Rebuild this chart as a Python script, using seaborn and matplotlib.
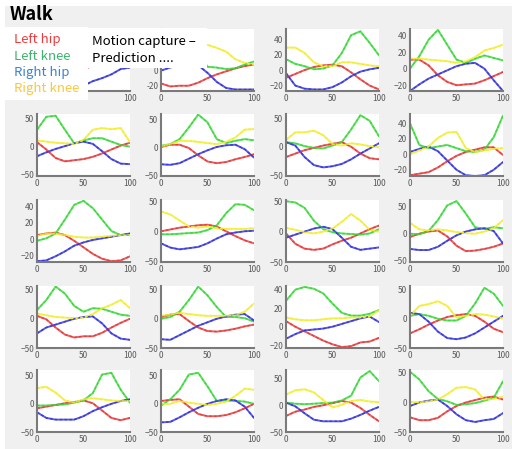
import numpy as np
import pandas as pd
import matplotlib
matplotlib.use("Agg")
import matplotlib.pyplot as plt
import seaborn as sns
from matplotlib.patches import Rectangle

# Gait cycle (%) sampled every 10 %
CYCLE_PCT = [0, 10, 20, 30, 40, 50, 60, 70, 80, 90, 100]
JOINTS = ["Left hip", "Left knee", "Right hip", "Right knee"]
LINE_COLORS = ["#e63a3a", "#3ad83a", "#3535dc", "#f2ee2e"]
TEXT_COLORS = ["#f03c3c", "#3cb46e", "#3c82d2", "#fac83c"]

# Joint angles (deg) per trial, trials ordered row by row (5 rows x 4 columns)
LEFT_HIP = [
    [5, 2, -8, -14, -10, 0, 8, 12, 15, 12, 10],
    [-17, -21, -20, -20, -16, -10, -5, -1, 3, 6, 8],
    [-10, -5, 0, 4, 6, 7, 5, -3, -12, -20, -25],
    [11, 11, 4, -8, -16, -20, -19, -18, -14, -9, -4],
    [8, -5, -20, -26, -24, -22, -18, -12, -5, 2, 7],
    [1, 5, 5, -1, -14, -25, -28, -26, -21, -17, -12],
    [-18, -12, -6, -2, 2, 5, 8, 0, -12, -20, -22],
    [-27, -25, -23, -17, -9, -2, 3, 6, 9, 9, -1],
    [5, 7, 8, 5, -2, -10, -18, -24, -27, -26, -21],
    [0, 3, 6, 8, 10, 11, 8, 0, -8, -15, -20],
    [-3, -20, -28, -30, -28, -21, -15, -10, -3, 4, 10],
    [-6, 0, 4, 6, -5, -22, -32, -31, -28, -24, -18],
    [5, -1, -15, -27, -32, -30, -30, -24, -15, -7, 0],
    [3, 7, 8, -4, -15, -21, -22, -20, -17, -13, -10],
    [6, 0, -5, -10, -15, -19, -22, -21, -17, -16, -12],
    [-25, -18, -10, -3, 3, 6, 8, 5, -5, -17, -23],
    [-8, -5, -2, 1, 3, 6, 1, -12, -25, -29, -25],
    [5, 7, 8, -5, -18, -22, -22, -20, -15, -8, 0],
    [-20, -12, -8, -3, 0, 4, 8, 5, -5, -18, -30],
    [-25, -30, -30, -26, -15, -6, 0, 4, 8, 10, 5],
]
LEFT_KNEE = [
    [15, 35, 50, 40, 20, 12, 10, 15, 20, 15, 10],
    [10, 20, 35, 40, 25, 5, 4, 2, 3, 8, 12],
    [14, 8, 5, 1, 2, 6, 22, 45, 50, 35, 19],
    [0, 15, 35, 47, 29, 11, 7, 12, 16, 13, 10],
    [30, 53, 55, 30, 6, 11, 15, 15, 9, 3, 0],
    [3, 6, 15, 36, 59, 45, 15, 8, 12, 15, 13],
    [8, 6, 1, -2, -3, 2, 8, 30, 55, 45, 18],
    [40, 12, 8, 10, 12, 8, 4, 3, 6, 22, 50],
    [-2, 1, 7, 24, 42, 47, 38, 24, 10, 5, 5],
    [-5, -5, -4, -3, -2, 2, 10, 30, 45, 44, 35],
    [50, 48, 39, 18, 4, -1, -3, -4, -5, -3, 4],
    [0, -1, 5, 25, 52, 60, 37, 12, 9, 12, 10],
    [15, 32, 55, 43, 22, 12, 18, 17, 12, 7, 5],
    [0, 3, 12, 32, 55, 40, 20, 3, 3, 1, -5],
    [28, 40, 43, 41, 36, 25, 15, 12, 12, 14, 18],
    [5, 8, 5, 0, -3, -3, 5, 26, 53, 43, 22],
    [-3, -3, -2, -1, 2, 6, 19, 52, 55, 25, 2],
    [-3, 8, 25, 52, 55, 31, 5, 6, 5, 4, 0],
    [5, 3, 2, 3, 4, 5, 9, 18, 52, 64, 45],
    [52, 39, 19, 6, 2, -4, -3, -1, 3, 8, 36],
]
RIGHT_HIP = [
    [-5, -10, -15, -20, -22, -20, -14, -10, -5, 2, 4],
    [0, 4, 8, 10, 7, -3, -15, -23, -25, -25, -25],
    [-4, -20, -24, -25, -25, -22, -16, -8, -2, 1, 3],
    [-27, -19, -12, -7, -2, 3, 6, 7, 0, -14, -27],
    [-17, -10, -4, 1, 6, 9, 5, -8, -22, -30, -31],
    [-30, -31, -28, -20, -12, -5, 1, 4, 5, -3, -18],
    [8, 2, -18, -32, -36, -34, -30, -22, -12, -3, 6],
    [3, 7, 10, 4, -8, -20, -27, -28, -27, -20, -10],
    [-27, -26, -21, -15, -8, -4, -1, 1, 3, 5, 7],
    [-20, -27, -30, -28, -26, -20, -12, -5, -2, 0, 1],
    [-10, -5, 0, 5, 8, 4, -10, -25, -30, -28, -26],
    [-28, -30, -30, -24, -13, -3, 4, 8, 10, 5, -18],
    [-25, -15, -10, -5, 0, 3, 4, -8, -25, -34, -36],
    [-35, -36, -28, -20, -12, -6, 0, 4, 7, 8, -3],
    [-13, -8, -4, -3, -2, 0, 3, 6, 9, 11, 5],
    [10, 8, -5, -22, -33, -35, -32, -25, -15, -5, 5],
    [-15, -25, -28, -28, -28, -22, -13, -6, 0, 5, 8],
    [-33, -32, -24, -15, -7, 0, 5, 8, 6, -5, -25],
    [5, -2, -15, -27, -30, -30, -30, -25, -18, -10, -3],
    [-6, 0, 3, 5, -6, -20, -30, -33, -30, -28, -18],
]
RIGHT_KNEE = [
    [10, 8, 6, 8, 12, 15, 18, 22, 25, 20, 15],
    [20, 22, 25, 28, 32, 34, 30, 25, 15, 10, 8],
    [29, 29, 22, 10, 5, 5, 10, 10, 8, 6, 5],
    [12, 12, 11, 10, 9, 7, 9, 14, 22, 25, 29],
    [11, 9, 7, 6, 5, 12, 30, 33, 31, 33, 8],
    [2, 6, 12, 12, 10, 8, 6, 10, 18, 32, 33],
    [12, 25, 25, 28, 20, 5, 2, 6, 4, 1, -1],
    [0, 5, 10, 21, 28, 29, 8, 3, 5, 7, 8],
    [4, 7, 7, 5, 3, 2, 2, 3, 4, 5, 5],
    [33, 28, 18, 8, 6, 8, 5, 4, 4, 4, 5],
    [6, 3, -1, -3, 0, 5, 16, 29, 18, 3, 0],
    [20, 8, 6, 8, 6, 3, 1, 0, 4, 10, 25],
    [9, 6, 3, 2, 1, 2, 8, 18, 24, 32, 18],
    [5, 7, 10, 8, 6, 5, 5, 5, 6, 12, 26],
    [10, 8, 7, 7, 8, 9, 9, 10, 10, 11, 18],
    [5, 22, 25, 30, 22, 2, 5, 8, 7, 4, 0],
    [28, 30, 20, 6, 2, 8, 10, 8, 6, 5, 5],
    [0, 0, 5, 2, 0, -2, 0, 4, 14, 27, 25],
    [20, 28, 30, 24, 10, -4, 1, 8, 10, 7, 6],
    [1, 0, 2, 5, 14, 25, 26, 22, 5, 6, 10],
]
YLIMS = [
    (-27, 55), (-27, 55), (-27, 53), (-27, 48),
    (-52, 58), (-51, 60), (-51, 57), (-28, 52),
    (-28, 48), (-51, 52), (-50, 52), (-52, 62),
    (-49, 56), (-49, 56), (-23, 44), (-49, 56),
    (-50, 60), (-50, 60), (-50, 66), (-50, 55),
]
YTICKS = [
    [-20, 0, 20, 40], [-20, 0, 20, 40], [-20, 0, 20, 40], [-20, 0, 20, 40],
    [-50, 0, 50], [-50, 0, 50], [-50, 0, 50], [-20, 0, 20, 40],
    [-20, 0, 20, 40], [-50, 0, 50], [-50, 0, 50], [-50, 0, 50],
    [-50, 0, 50], [-50, 0, 50], [-20, 0, 20, 40], [-50, 0, 50],
    [-50, 0, 50], [-50, 0, 50], [-50, 0, 50], [-50, 0, 50],
]
XTICKS = [0, 50, 100]

sns.set_style("white")
plt.rcParams["font.family"] = ["Noto Sans CJK KR", "DejaVu Sans"]

W, H = 512, 449
fig = plt.figure(figsize=(W / 100, H / 100), dpi=100, facecolor="white")

# grey panel behind the grid
fig.add_artist(Rectangle((5 / W, 0), 1 - 5 / W, 1 - 6 / H, transform=fig.transFigure,
                         facecolor="#f0f0f0", edgecolor="none", zorder=-2))

COL_LEFT = [37, 161, 286, 410]
ROW_TOP = [29, 114, 200, 286, 370]
AX_W, AX_H = 93, 62

for i in range(20):
    r, c = divmod(i, 4)
    ax = fig.add_axes([COL_LEFT[c] / W, 1 - (ROW_TOP[r] + AX_H) / H, AX_W / W, AX_H / H])
    ax.set_facecolor("white")
    df = pd.DataFrame({
        "pct": CYCLE_PCT * 4,
        "angle": LEFT_HIP[i] + LEFT_KNEE[i] + RIGHT_HIP[i] + RIGHT_KNEE[i],
        "joint": np.repeat(JOINTS, len(CYCLE_PCT)),
    })
    # motion capture (solid) and prediction (dotted) traces
    sns.lineplot(data=df, x="pct", y="angle", hue="joint", hue_order=JOINTS,
                 palette=LINE_COLORS, ax=ax, legend=False, lw=1.4, alpha=0.8)
    sns.lineplot(data=df, x="pct", y="angle", hue="joint", hue_order=JOINTS,
                 palette=LINE_COLORS, ax=ax, legend=False, lw=1.0,
                 linestyle=(0, (2, 1.5)), alpha=0.9)
    ax.set_xlim(0, 100)
    ax.set_ylim(*YLIMS[i])
    ax.set_xticks(XTICKS)
    ax.set_yticks(YTICKS[i])
    ax.set_xlabel("")
    ax.set_ylabel("")
    for side in ("top", "right"):
        ax.spines[side].set_visible(False)
    for side in ("left", "bottom"):
        ax.spines[side].set_color("#7a7a7a")
        ax.spines[side].set_linewidth(1.5)
    ax.tick_params(direction="in", length=2.5, width=0.8, color="#7a7a7a",
                   labelcolor="#5a5a5a", labelsize=6, pad=2)
    # labels that sit underneath the key boxes are left blank
    if i == 0:
        ax.set_yticklabels([""] * len(YTICKS[i]))
        ax.set_xticklabels(["", "", "100"])
    elif i == 1:
        ax.set_yticklabels([str(t) if t <= 0 else "" for t in YTICKS[i]])

fig.text(10 / W, 1 - 15 / H, "Walk", fontsize=13, fontweight="bold",
         va="center", ha="left", color="black")

# colour key and line-style note
fig.add_artist(Rectangle((5 / W, 1 - 100 / H), 83 / W, 73 / H, transform=fig.transFigure,
                         facecolor="white", edgecolor="none", zorder=5))
fig.add_artist(Rectangle((88 / W, 1 - 68 / H), 119 / W, 40 / H, transform=fig.transFigure,
                         facecolor="white", edgecolor="none", zorder=5))
for k, (name, col) in enumerate(zip(JOINTS, TEXT_COLORS)):
    fig.text(14 / W, 1 - (40 + 16.3 * k) / H, name, color=col, fontsize=9.5,
             va="center", ha="left", zorder=6)
fig.text(92 / W, 1 - 42 / H, "Motion capture –", color="black", fontsize=9.5,
         va="center", ha="left", zorder=6)
fig.text(92 / W, 1 - 58 / H, "Prediction ....", color="black", fontsize=9.5,
         va="center", ha="left", zorder=6)

fig.savefig("out.png", dpi=100, facecolor="white")
